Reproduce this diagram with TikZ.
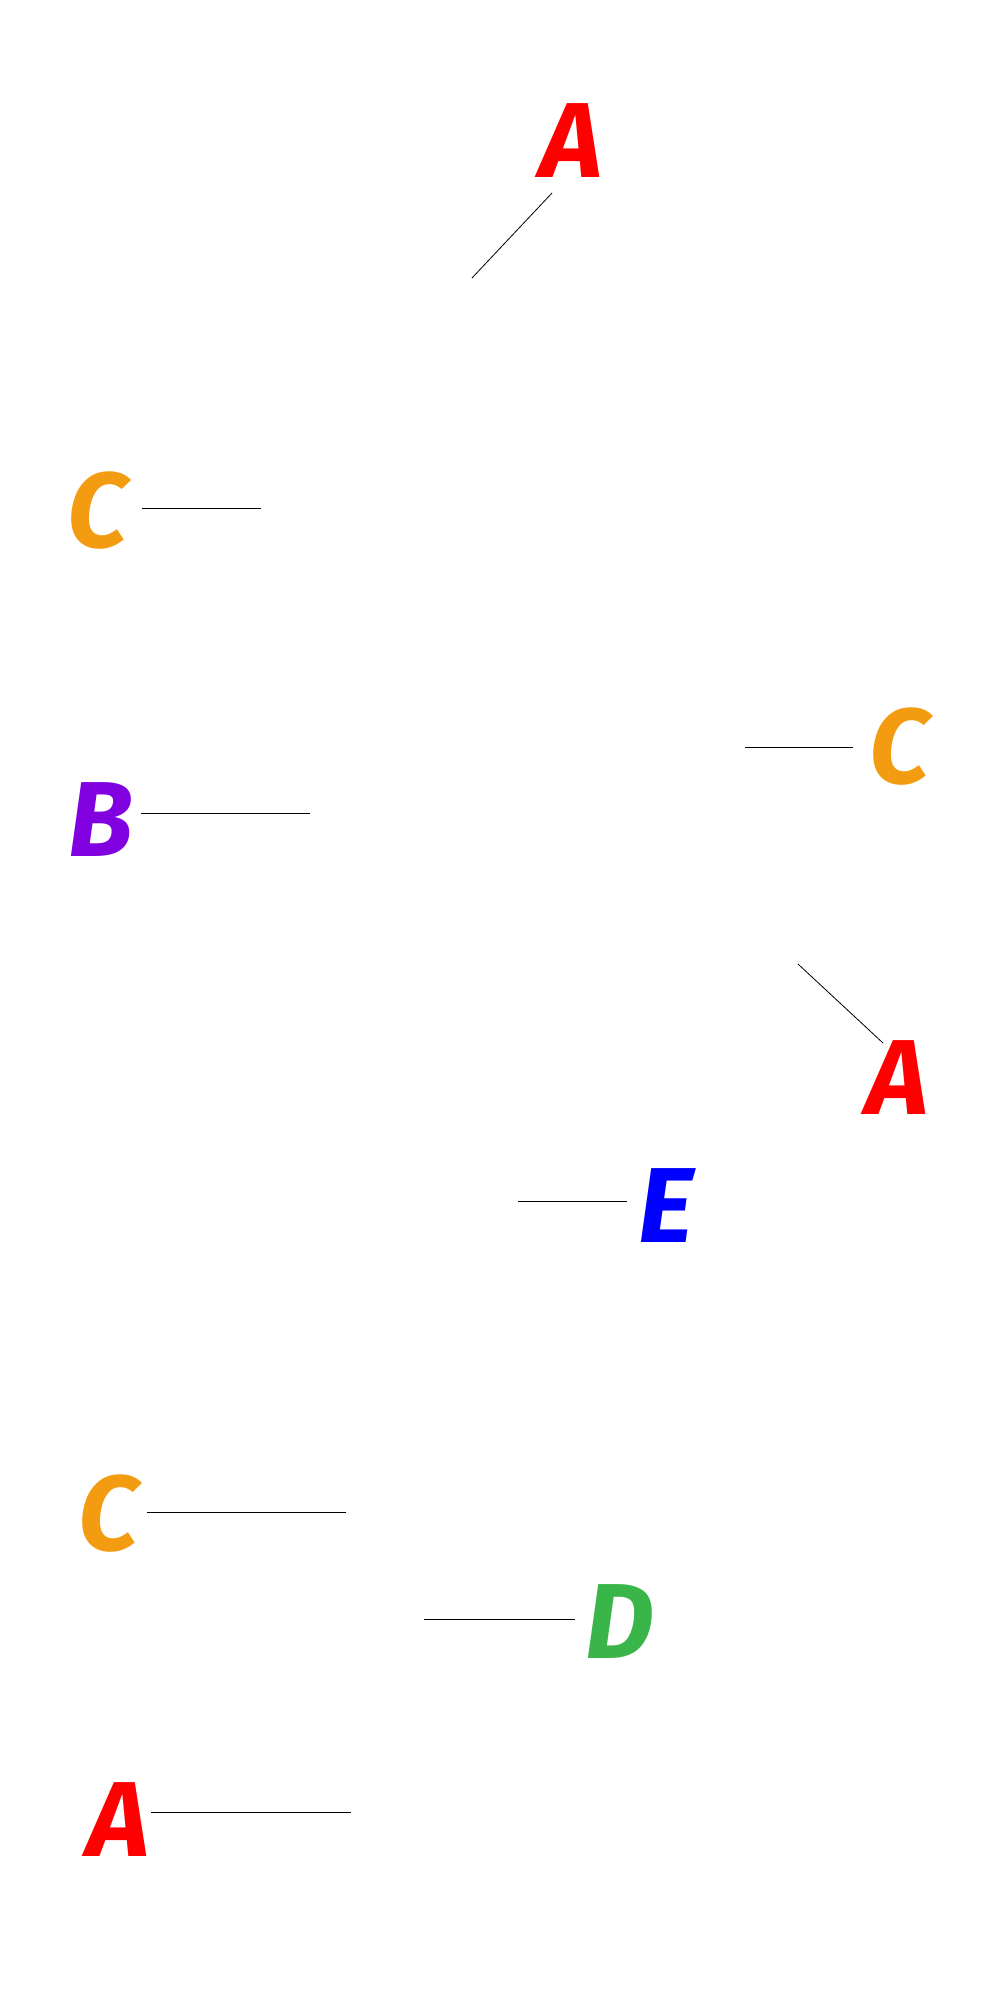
\documentclass[tikz,border=0pt]{standalone}
\usepackage{fontspec}
\setmainfont{Fira Sans}
\definecolor{cRed}{HTML}{FF0000}
\definecolor{cOrange}{HTML}{F39C12}
\definecolor{cPurple}{HTML}{8000E0}
\definecolor{cBlue}{HTML}{0000FF}
\definecolor{cGreen}{HTML}{3AB54A}
\tikzset{
  letter/.style={inner sep=0pt, font=\fontsize{80}{80}\selectfont\bfseries\itshape},
  leader/.style={draw=black, line width=0.6pt}
}
\begin{document}
\begin{tikzpicture}[x=0.75pt,y=-0.75pt]
\useasboundingbox (0,0) rectangle (1000,2010);
\node[letter, text=cRed] (A1) at (571,141) {A};
\node[letter, text=cOrange] (C1) at (98,511) {C};
\node[letter, text=cOrange] (C2) at (900,747) {C};
\node[letter, text=cPurple] (B) at (101,820) {B};
\node[letter, text=cRed] (A2) at (897,1078) {A};
\node[letter, text=cBlue] (E) at (666,1206) {E};
\node[letter, text=cOrange] (C3) at (109,1514) {C};
\node[letter, text=cGreen] (D) at (620,1622) {D};
\node[letter, text=cRed] (A3) at (118,1820) {A};
\coordinate (a1e) at (472,278);
\coordinate (c1e) at (261,508);
\coordinate (c2e) at (745,747);
\coordinate (be) at (310,813);
\coordinate (a2e) at (798,964);
\coordinate (ee) at (518,1201);
\coordinate (c3e) at (346,1512);
\coordinate (de) at (424,1619);
\coordinate (a3e) at (351,1812);
\draw[leader] ([shift={(-19,52)}]A1.center) -- (a1e);
\draw[leader] ([shift={(44,-3)}]C1.center) -- (c1e);
\draw[leader] ([shift={(-47,0)}]C2.center) -- (c2e);
\draw[leader] ([shift={(40,-7)}]B.center) -- (be);
\draw[leader] ([shift={(-14,-35)}]A2.center) -- (a2e);
\draw[leader] ([shift={(-39,-5)}]E.center) -- (ee);
\draw[leader] ([shift={(38,-2)}]C3.center) -- (c3e);
\draw[leader] ([shift={(-45,-3)}]D.center) -- (de);
\draw[leader] ([shift={(33,-8)}]A3.center) -- (a3e);
\end{tikzpicture}
\end{document}
